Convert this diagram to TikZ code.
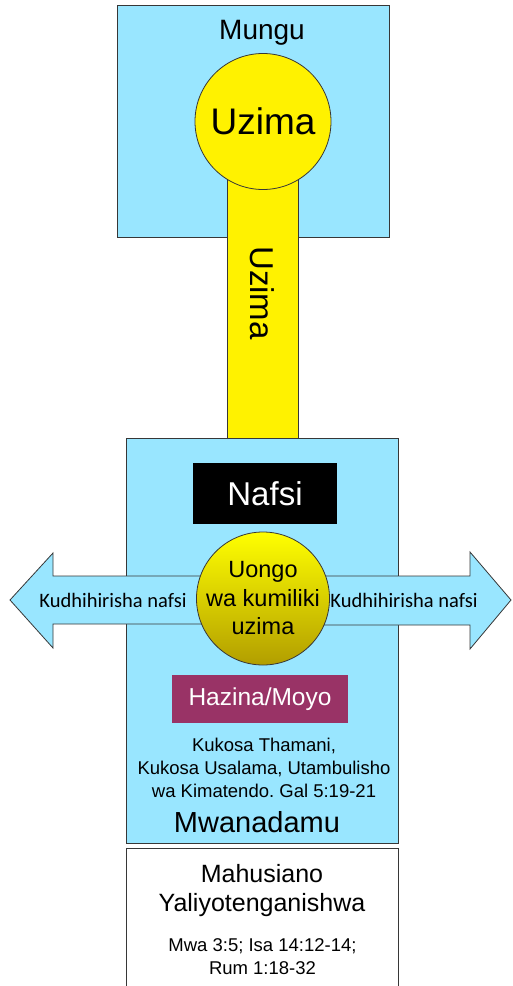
\documentclass[tikz,border=0pt]{standalone}
\usepackage{fontspec}
\setmainfont{Liberation Sans}
\newfontfamily\arrowfont{Carlito}
\definecolor{skyblue}{RGB}{153,230,255}
\definecolor{wine}{RGB}{153,51,102}
\definecolor{lifeshade}{RGB}{178,158,0}
\definecolor{edge}{RGB}{55,55,55}

\begin{document}
\frenchspacing
\begin{tikzpicture}[x=1pt,y=-1pt,
  box/.style={draw=edge,line width=0.8pt},
  lbl/.style={inner sep=0pt,align=center},
  fs/.style 2 args={font=\fontsize{#1}{#2}\selectfont},
  arrowtxt/.style={inner sep=0pt,font=\arrowfont\fontsize{20.5}{20.5}\selectfont}]
  \useasboundingbox (0,0) rectangle (512,986);
  % Mungu box
  \draw[box,fill=skyblue] (117,5) rectangle (389,237);
  \node[lbl,fs={28}{28}] (mungu) at (262,33) {Mungu};
  % Uzima bar
  \draw[box,fill=yellow] (227,150) rectangle (298,438);
  \node[lbl,fs={33}{33},rotate=-90] (barlbl) at (262,293) {Uzima};
  % Uzima circle
  \node[box,fill=yellow,circle,minimum size=136pt,inner sep=0pt,fs={37}{37}] (uzima) at (263,121.5) {Uzima};

  % Mwanadamu box
  \draw[box,fill=skyblue] (126,438) rectangle (398,843);
  % Arrows out of the soul
  \draw[box,fill=skyblue] (215,576) -- (53,576) -- (53,553) -- (10,600)
    -- (53,648) -- (53,624) -- (215,624) -- cycle;
  \draw[box,fill=skyblue] (310,576) -- (470,576) -- (470,552) -- (511,600)
    -- (470,649) -- (470,625) -- (310,625) -- cycle;
  \node[arrowtxt] (leftlbl) at (113,600) {Kudhihirisha nafsi};
  \node[arrowtxt] (rightlbl) at (404,600) {Kudhihirisha nafsi};
  % Nafsi
  \node[fill=black,text=white,minimum width=144pt,minimum height=61pt,inner sep=0pt,fs={33}{33}] (nafsi) at (265,493.5) {Nafsi};
  % Uongo circle
  \node[circle,draw=edge,line width=0.8pt,top color=yellow,bottom color=lifeshade,minimum size=133pt,inner sep=0pt] (uongo) at (263,598.5) {};
  \node[lbl,fs={23.5}{28.5}] (uongolbl) at (uongo.center) {Uongo\\wa kumiliki\\uzima};
  % Hazina
  \node[fill=wine,text=white,minimum width=176pt,minimum height=48pt,inner sep=0pt,fs={24.5}{24.5}] (hazina) at (260,699) {Hazina/Moyo};
  \node[lbl,fs={18.5}{22.8}] (tabia) at (264,768) {Kukosa Thamani,\\Kukosa Usalama, Utambulisho\\wa Kimatendo. Gal 5:19-21};
  \node[lbl,fs={29}{29}] (mwanadamu) at (257,822) {Mwanadamu};

  % Mahusiano box
  \draw[box,fill=white] (126,848) rectangle (398,1000);
  \node[lbl,fs={25}{29}] (mahusiano) at (262,891) {Mahusiano\\Yaliyotenganishwa};
  \node[lbl,fs={18.5}{23}] (mistari) at (262.5,957) {Mwa 3:5; Isa 14:12-14;\\Rum 1:18-32};
\end{tikzpicture}
\end{document}
